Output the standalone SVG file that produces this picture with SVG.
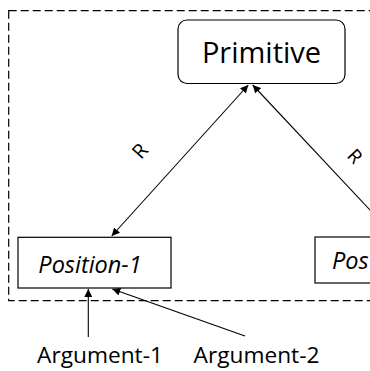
<svg xmlns="http://www.w3.org/2000/svg" width="370" height="371" viewBox="0 0 370 371">
<style>
.box{fill:#fff;stroke:#000;stroke-width:1.2}
.line{fill:none;stroke:#000;stroke-width:1.1}
.t{font-family:"Open Sans","Noto Sans",sans-serif;fill:#000}
</style>
<defs>
<marker id="ah" viewBox="0 0 10 10" refX="10" refY="5" markerWidth="8" markerHeight="8" markerUnits="userSpaceOnUse" orient="auto-start-reverse">
<path d="M0,0 L10,5 L0,10 z" fill="#000"/>
</marker>
</defs>
<rect x="0" y="0" width="370" height="371" fill="#fff"/>
<rect id="frame" x="8.7" y="10.7" width="380" height="290" fill="none" stroke="#000" stroke-width="1.2" stroke-dasharray="8,4"/>
<g id="connectors">
<line class="line" x1="248.3" y1="85" x2="111.7" y2="236" marker-start="url(#ah)" marker-end="url(#ah)"/>
<line class="line" x1="252.7" y1="85" x2="385" y2="226" marker-start="url(#ah)"/>
<line class="line" x1="88.3" y1="337" x2="88.3" y2="289" marker-end="url(#ah)"/>
<line class="line" x1="245" y1="336" x2="112.3" y2="289" marker-end="url(#ah)"/>
<text class="t" font-size="20" text-anchor="middle" transform="translate(140,151) rotate(-48)" dy="7">R</text>
<text class="t" font-size="19" text-anchor="middle" transform="translate(355,156) rotate(47)" dy="7">R</text>
</g>
<g id="primitive">
<rect class="box" x="178" y="20" width="167" height="63.5" rx="9"/>
<text class="t" x="261.5" y="63" font-size="29" text-anchor="middle">Primitive</text>
</g>
<g id="position-1">
<rect class="box" x="18" y="237.3" width="153" height="50.7"/>
<text class="t" x="90" y="273" font-size="23.5" font-style="italic" text-anchor="middle">Position-1</text>
</g>
<g id="position-2">
<rect class="box" x="315" y="237" width="80" height="46"/>
<text class="t" x="332" y="269" font-size="23.5" font-style="italic">Pos</text>
</g>
<g id="argument-1">
<text class="t" x="100" y="363" font-size="22.7" text-anchor="middle">Argument-1</text>
</g>
<g id="argument-2">
<text class="t" x="256.5" y="363" font-size="22.7" text-anchor="middle">Argument-2</text>
</g>
</svg>
